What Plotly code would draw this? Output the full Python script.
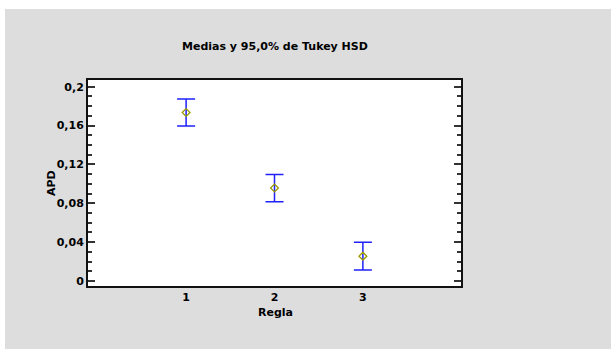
import plotly.graph_objects as go

reglas = [1, 2, 3]
medias = [0.1735, 0.0957, 0.0256]
intervalo = [0.0139, 0.0140, 0.0142]
y_ticks = [0, 0.04, 0.08, 0.12, 0.16, 0.2]
y_ticktext = ["0", "0,04", "0,08", "0,12", "0,16", "0,2"]
x_ticktext = ["1", "2", "3"]

W, H = 611, 349
L, R, T, B = 88, 461, 80, 286
pw, ph = R - L, B - T

def px_x(x):
    return (x - L) / pw

def px_y(y):
    return (B - y) / ph

FONT = "DejaVu Sans, Verdana, sans-serif"

fig = go.Figure()
fig.add_trace(go.Scatter(
    x=reglas, y=medias, mode="markers",
    marker=dict(symbol="diamond-open", size=6, color="#9a9a00", line=dict(width=1.3)),
    error_y=dict(type="data", array=intervalo, visible=True, color="#2020ff",
                 thickness=1.5, width=9),
    showlegend=False,
))

fig.update_layout(
    width=W, height=H,
    margin=dict(l=L, r=W - R, t=T, b=H - B, pad=0),
    paper_bgcolor="#dddddd",
    plot_bgcolor="white",
    font=dict(family=FONT, size=11, color="black"),
    separators=",.",
    shapes=[
        dict(type="rect", xref="paper", yref="paper", x0=px_x(0), x1=px_x(W), y0=px_y(0), y1=px_y(9),
             fillcolor="white", line=dict(width=0), layer="below"),
        dict(type="rect", xref="paper", yref="paper", x0=px_x(0), x1=px_x(5), y0=px_y(0), y1=px_y(H),
             fillcolor="white", line=dict(width=0), layer="below"),
    ],
    annotations=[
        dict(text="<b>Medias y 95,0% de Tukey HSD</b>", xref="paper", yref="paper",
             x=px_x(275), y=px_y(46), xanchor="center", yanchor="middle", showarrow=False,
             font=dict(size=11)),
        dict(text="<b>APD</b>", xref="paper", yref="paper", textangle=-90,
             x=px_x(51), y=px_y(183), xanchor="center", yanchor="middle", showarrow=False,
             font=dict(size=11)),
        dict(text="<b>Regla</b>", xref="paper", yref="paper",
             x=px_x(275), y=px_y(312), xanchor="center", yanchor="middle", showarrow=False,
             font=dict(size=11)),
    ],
)

fig.update_xaxes(
    range=[-0.11, 4.11], tickvals=reglas, ticktext=["<b>%s</b>" % t for t in x_ticktext],
    ticks="", showgrid=False, zeroline=False,
    showline=True, linecolor="#111111", linewidth=2, mirror=True,
    tickfont=dict(size=11), ticklabelstandoff=0,
)
fig.update_yaxes(
    range=[-0.0051, 0.2069], tickvals=y_ticks, ticktext=["<b>%s</b>" % t for t in y_ticktext],
    ticks="inside", ticklen=7, tickwidth=2, tickcolor="#333333",
    minor=dict(ticks="inside", dtick=0.01, tick0=0, ticklen=4, tickwidth=1.5, tickcolor="#333333"),
    showgrid=False, zeroline=False,
    showline=True, linecolor="#111111", linewidth=2, mirror="ticks",
    tickfont=dict(size=11),
)

fig.write_html(
    "out.html",
    config={"displayModeBar": False},
    post_script="document.body.style.margin='0';document.body.style.background='#dddddd';",
)
